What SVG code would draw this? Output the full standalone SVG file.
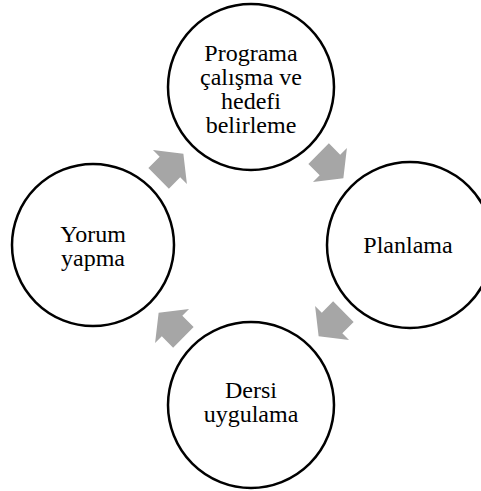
<svg xmlns="http://www.w3.org/2000/svg" width="481" height="491" viewBox="0 0 481 491">
<defs>
<style>
.node{fill:#ffffff;stroke:#000000;stroke-width:2.5}
.lbl{font-family:'Liberation Serif','Times New Roman',Times,serif;font-size:24px;fill:#000000;text-anchor:middle}
.arr{fill:#a6a6a6;stroke:none}
</style>
<polygon id="blockArrow" class="arr" points="-17.5,-14.5 -1.5,-14.5 -1.5,-24 17.5,0 -1.5,24 -1.5,14.5 -17.5,14.5"/>
</defs>
<rect width="481" height="491" fill="#ffffff"/>
<g id="connectors">
<use href="#blockArrow" transform="translate(331,166) rotate(45)"/>
<use href="#blockArrow" transform="translate(331,324) rotate(135)"/>
<use href="#blockArrow" transform="translate(171,325) rotate(-135)"/>
<use href="#blockArrow" transform="translate(171,166) rotate(-45)"/>
</g>
<g font-family="'Liberation Serif', serif">
<g id="node-programa">
<circle class="node" cx="251" cy="87" r="83"/>
<text class="lbl" x="251" y="61">Programa</text>
<text class="lbl" x="251" y="85">çalışma ve</text>
<text class="lbl" x="251" y="109">hedefi</text>
<text class="lbl" x="251" y="133">belirleme</text>
</g>
<g id="node-planlama">
<circle class="node" cx="410" cy="245" r="83"/>
<text class="lbl" x="408" y="253">Planlama</text>
</g>
<g id="node-dersi">
<circle class="node" cx="251" cy="405" r="83"/>
<text class="lbl" x="251" y="398">Dersi</text>
<text class="lbl" x="251" y="422">uygulama</text>
</g>
<g id="node-yorum">
<circle class="node" cx="93" cy="245" r="81"/>
<text class="lbl" x="93" y="242">Yorum</text>
<text class="lbl" x="93" y="266">yapma</text>
</g>
</g>
</svg>
